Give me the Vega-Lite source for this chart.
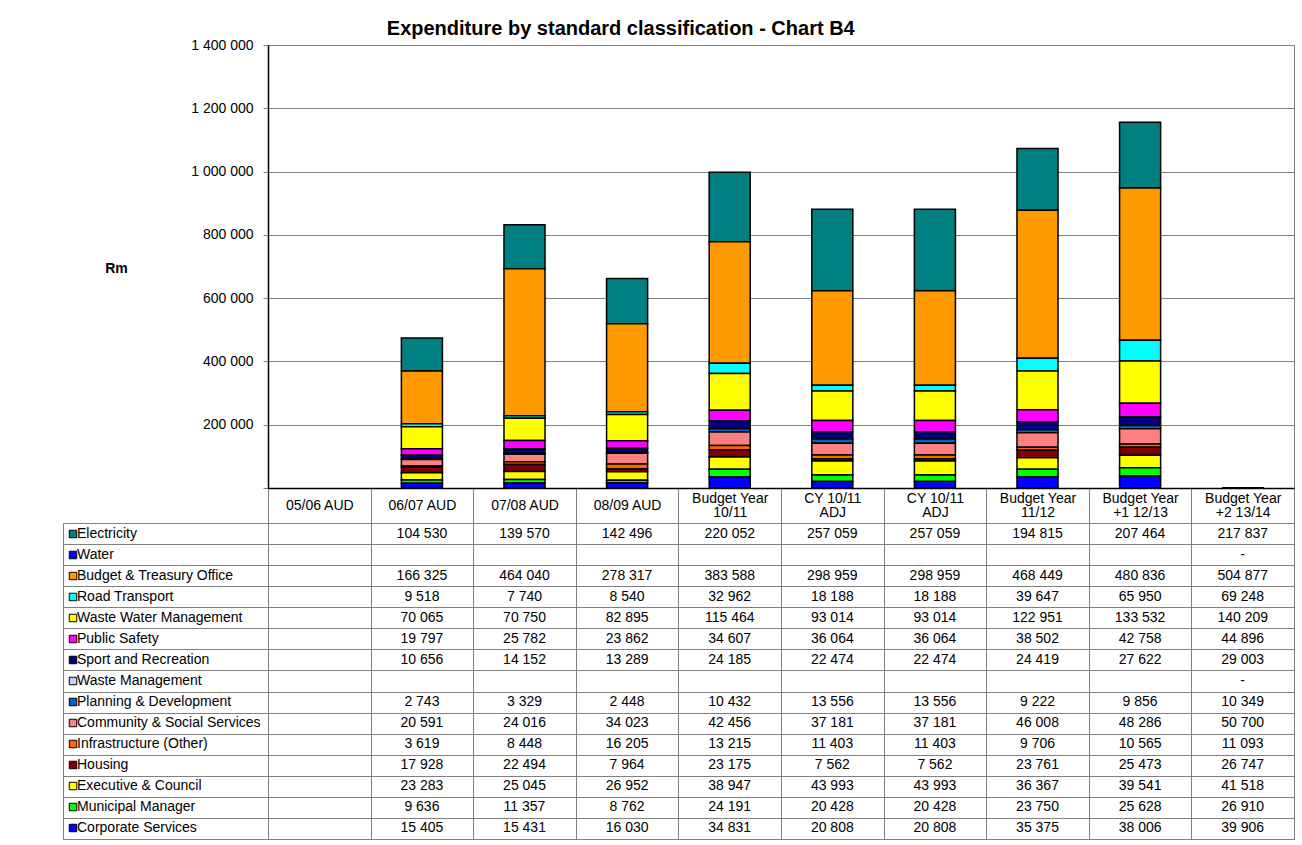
{
  "$schema": "https://vega.github.io/schema/vega-lite/v6.json",
  "padding": {"left": 62, "top": 18, "right": 6, "bottom": 4},
  "background": "white",
  "title": {"text": "Expenditure by standard classification - Chart B4", "font": "Liberation Sans", "fontSize": 20, "fontWeight": "bold", "color": "black", "anchor": "middle", "dx": -58, "offset": -1},
  "config": {
    "locale": {"number": {"decimal": ".", "thousands": " ", "grouping": [3], "currency": ["", ""]}},
    "font": "Liberation Sans",
    "view": {"stroke": "#808080"},
    "axis": {"labelFont": "Liberation Sans", "labelFontSize": 14, "labelColor": "black", "titleFont": "Liberation Sans"},
    "legend": {"labelFont": "Liberation Sans"}
  },
  "resolve": {"scale": {"color": "independent"}, "legend": {"color": "independent"}},
  "datasets": {
    "rank": [
      {"s": "Corporate Services", "r": 0},
      {"s": "Municipal Manager", "r": 1},
      {"s": "Executive & Council", "r": 2},
      {"s": "Housing", "r": 3},
      {"s": "Infrastructure (Other)", "r": 4},
      {"s": "Community & Social Services", "r": 5},
      {"s": "Planning & Development", "r": 6},
      {"s": "Waste Management", "r": 7},
      {"s": "Sport and Recreation", "r": 8},
      {"s": "Public Safety", "r": 9},
      {"s": "Waste Water Management", "r": 10},
      {"s": "Road Transport", "r": 11},
      {"s": "Budget & Treasury Office", "r": 12},
      {"s": "Water", "r": 13},
      {"s": "Electricity", "r": 14}
    ],
    "d": [
      {"s": "Electricity", "c": "06/07 AUD", "v": 104530, "h": 104530},
      {"s": "Electricity", "c": "07/08 AUD", "v": 139570, "h": 139570},
      {"s": "Electricity", "c": "08/09 AUD", "v": 142496, "h": 142496},
      {"s": "Electricity", "c": "Budget Year|10/11", "v": 220052, "h": 220052},
      {"s": "Electricity", "c": "CY  10/11|ADJ", "v": 257059, "h": 257059},
      {"s": "Electricity", "c": "CY  10/11|ADJ ", "v": 257059, "h": 257059},
      {"s": "Electricity", "c": "Budget Year|11/12", "v": 194815, "h": 194815},
      {"s": "Electricity", "c": "Budget Year|+1 12/13", "v": 207464, "h": 207464},
      {"s": "Electricity", "c": "Budget Year|+2 13/14", "v": 217837, "h": 0},
      {"s": "Water", "c": "Budget Year|+2 13/14", "v": 0, "h": 0},
      {"s": "Budget & Treasury Office", "c": "06/07 AUD", "v": 166325, "h": 166325},
      {"s": "Budget & Treasury Office", "c": "07/08 AUD", "v": 464040, "h": 464040},
      {"s": "Budget & Treasury Office", "c": "08/09 AUD", "v": 278317, "h": 278317},
      {"s": "Budget & Treasury Office", "c": "Budget Year|10/11", "v": 383588, "h": 383588},
      {"s": "Budget & Treasury Office", "c": "CY  10/11|ADJ", "v": 298959, "h": 298959},
      {"s": "Budget & Treasury Office", "c": "CY  10/11|ADJ ", "v": 298959, "h": 298959},
      {"s": "Budget & Treasury Office", "c": "Budget Year|11/12", "v": 468449, "h": 468449},
      {"s": "Budget & Treasury Office", "c": "Budget Year|+1 12/13", "v": 480836, "h": 480836},
      {"s": "Budget & Treasury Office", "c": "Budget Year|+2 13/14", "v": 504877, "h": 0},
      {"s": "Road Transport", "c": "06/07 AUD", "v": 9518, "h": 9518},
      {"s": "Road Transport", "c": "07/08 AUD", "v": 7740, "h": 7740},
      {"s": "Road Transport", "c": "08/09 AUD", "v": 8540, "h": 8540},
      {"s": "Road Transport", "c": "Budget Year|10/11", "v": 32962, "h": 32962},
      {"s": "Road Transport", "c": "CY  10/11|ADJ", "v": 18188, "h": 18188},
      {"s": "Road Transport", "c": "CY  10/11|ADJ ", "v": 18188, "h": 18188},
      {"s": "Road Transport", "c": "Budget Year|11/12", "v": 39647, "h": 39647},
      {"s": "Road Transport", "c": "Budget Year|+1 12/13", "v": 65950, "h": 65950},
      {"s": "Road Transport", "c": "Budget Year|+2 13/14", "v": 69248, "h": 0},
      {"s": "Waste Water Management", "c": "06/07 AUD", "v": 70065, "h": 70065},
      {"s": "Waste Water Management", "c": "07/08 AUD", "v": 70750, "h": 70750},
      {"s": "Waste Water Management", "c": "08/09 AUD", "v": 82895, "h": 82895},
      {"s": "Waste Water Management", "c": "Budget Year|10/11", "v": 115464, "h": 115464},
      {"s": "Waste Water Management", "c": "CY  10/11|ADJ", "v": 93014, "h": 93014},
      {"s": "Waste Water Management", "c": "CY  10/11|ADJ ", "v": 93014, "h": 93014},
      {"s": "Waste Water Management", "c": "Budget Year|11/12", "v": 122951, "h": 122951},
      {"s": "Waste Water Management", "c": "Budget Year|+1 12/13", "v": 133532, "h": 133532},
      {"s": "Waste Water Management", "c": "Budget Year|+2 13/14", "v": 140209, "h": 0},
      {"s": "Public Safety", "c": "06/07 AUD", "v": 19797, "h": 19797},
      {"s": "Public Safety", "c": "07/08 AUD", "v": 25782, "h": 25782},
      {"s": "Public Safety", "c": "08/09 AUD", "v": 23862, "h": 23862},
      {"s": "Public Safety", "c": "Budget Year|10/11", "v": 34607, "h": 34607},
      {"s": "Public Safety", "c": "CY  10/11|ADJ", "v": 36064, "h": 36064},
      {"s": "Public Safety", "c": "CY  10/11|ADJ ", "v": 36064, "h": 36064},
      {"s": "Public Safety", "c": "Budget Year|11/12", "v": 38502, "h": 38502},
      {"s": "Public Safety", "c": "Budget Year|+1 12/13", "v": 42758, "h": 42758},
      {"s": "Public Safety", "c": "Budget Year|+2 13/14", "v": 44896, "h": 0},
      {"s": "Sport and Recreation", "c": "06/07 AUD", "v": 10656, "h": 10656},
      {"s": "Sport and Recreation", "c": "07/08 AUD", "v": 14152, "h": 14152},
      {"s": "Sport and Recreation", "c": "08/09 AUD", "v": 13289, "h": 13289},
      {"s": "Sport and Recreation", "c": "Budget Year|10/11", "v": 24185, "h": 24185},
      {"s": "Sport and Recreation", "c": "CY  10/11|ADJ", "v": 22474, "h": 22474},
      {"s": "Sport and Recreation", "c": "CY  10/11|ADJ ", "v": 22474, "h": 22474},
      {"s": "Sport and Recreation", "c": "Budget Year|11/12", "v": 24419, "h": 24419},
      {"s": "Sport and Recreation", "c": "Budget Year|+1 12/13", "v": 27622, "h": 27622},
      {"s": "Sport and Recreation", "c": "Budget Year|+2 13/14", "v": 29003, "h": 0},
      {"s": "Waste Management", "c": "Budget Year|+2 13/14", "v": 0, "h": 0},
      {"s": "Planning & Development", "c": "06/07 AUD", "v": 2743, "h": 2743},
      {"s": "Planning & Development", "c": "07/08 AUD", "v": 3329, "h": 3329},
      {"s": "Planning & Development", "c": "08/09 AUD", "v": 2448, "h": 2448},
      {"s": "Planning & Development", "c": "Budget Year|10/11", "v": 10432, "h": 10432},
      {"s": "Planning & Development", "c": "CY  10/11|ADJ", "v": 13556, "h": 13556},
      {"s": "Planning & Development", "c": "CY  10/11|ADJ ", "v": 13556, "h": 13556},
      {"s": "Planning & Development", "c": "Budget Year|11/12", "v": 9222, "h": 9222},
      {"s": "Planning & Development", "c": "Budget Year|+1 12/13", "v": 9856, "h": 9856},
      {"s": "Planning & Development", "c": "Budget Year|+2 13/14", "v": 10349, "h": 0},
      {"s": "Community & Social Services", "c": "06/07 AUD", "v": 20591, "h": 20591},
      {"s": "Community & Social Services", "c": "07/08 AUD", "v": 24016, "h": 24016},
      {"s": "Community & Social Services", "c": "08/09 AUD", "v": 34023, "h": 34023},
      {"s": "Community & Social Services", "c": "Budget Year|10/11", "v": 42456, "h": 42456},
      {"s": "Community & Social Services", "c": "CY  10/11|ADJ", "v": 37181, "h": 37181},
      {"s": "Community & Social Services", "c": "CY  10/11|ADJ ", "v": 37181, "h": 37181},
      {"s": "Community & Social Services", "c": "Budget Year|11/12", "v": 46008, "h": 46008},
      {"s": "Community & Social Services", "c": "Budget Year|+1 12/13", "v": 48286, "h": 48286},
      {"s": "Community & Social Services", "c": "Budget Year|+2 13/14", "v": 50700, "h": 0},
      {"s": "Infrastructure (Other)", "c": "06/07 AUD", "v": 3619, "h": 3619},
      {"s": "Infrastructure (Other)", "c": "07/08 AUD", "v": 8448, "h": 8448},
      {"s": "Infrastructure (Other)", "c": "08/09 AUD", "v": 16205, "h": 16205},
      {"s": "Infrastructure (Other)", "c": "Budget Year|10/11", "v": 13215, "h": 13215},
      {"s": "Infrastructure (Other)", "c": "CY  10/11|ADJ", "v": 11403, "h": 11403},
      {"s": "Infrastructure (Other)", "c": "CY  10/11|ADJ ", "v": 11403, "h": 11403},
      {"s": "Infrastructure (Other)", "c": "Budget Year|11/12", "v": 9706, "h": 9706},
      {"s": "Infrastructure (Other)", "c": "Budget Year|+1 12/13", "v": 10565, "h": 10565},
      {"s": "Infrastructure (Other)", "c": "Budget Year|+2 13/14", "v": 11093, "h": 0},
      {"s": "Housing", "c": "06/07 AUD", "v": 17928, "h": 17928},
      {"s": "Housing", "c": "07/08 AUD", "v": 22494, "h": 22494},
      {"s": "Housing", "c": "08/09 AUD", "v": 7964, "h": 7964},
      {"s": "Housing", "c": "Budget Year|10/11", "v": 23175, "h": 23175},
      {"s": "Housing", "c": "CY  10/11|ADJ", "v": 7562, "h": 7562},
      {"s": "Housing", "c": "CY  10/11|ADJ ", "v": 7562, "h": 7562},
      {"s": "Housing", "c": "Budget Year|11/12", "v": 23761, "h": 23761},
      {"s": "Housing", "c": "Budget Year|+1 12/13", "v": 25473, "h": 25473},
      {"s": "Housing", "c": "Budget Year|+2 13/14", "v": 26747, "h": 0},
      {"s": "Executive & Council", "c": "06/07 AUD", "v": 23283, "h": 23283},
      {"s": "Executive & Council", "c": "07/08 AUD", "v": 25045, "h": 25045},
      {"s": "Executive & Council", "c": "08/09 AUD", "v": 26952, "h": 26952},
      {"s": "Executive & Council", "c": "Budget Year|10/11", "v": 38947, "h": 38947},
      {"s": "Executive & Council", "c": "CY  10/11|ADJ", "v": 43993, "h": 43993},
      {"s": "Executive & Council", "c": "CY  10/11|ADJ ", "v": 43993, "h": 43993},
      {"s": "Executive & Council", "c": "Budget Year|11/12", "v": 36367, "h": 36367},
      {"s": "Executive & Council", "c": "Budget Year|+1 12/13", "v": 39541, "h": 39541},
      {"s": "Executive & Council", "c": "Budget Year|+2 13/14", "v": 41518, "h": 0},
      {"s": "Municipal Manager", "c": "06/07 AUD", "v": 9636, "h": 9636},
      {"s": "Municipal Manager", "c": "07/08 AUD", "v": 11357, "h": 11357},
      {"s": "Municipal Manager", "c": "08/09 AUD", "v": 8762, "h": 8762},
      {"s": "Municipal Manager", "c": "Budget Year|10/11", "v": 24191, "h": 24191},
      {"s": "Municipal Manager", "c": "CY  10/11|ADJ", "v": 20428, "h": 20428},
      {"s": "Municipal Manager", "c": "CY  10/11|ADJ ", "v": 20428, "h": 20428},
      {"s": "Municipal Manager", "c": "Budget Year|11/12", "v": 23750, "h": 23750},
      {"s": "Municipal Manager", "c": "Budget Year|+1 12/13", "v": 25628, "h": 25628},
      {"s": "Municipal Manager", "c": "Budget Year|+2 13/14", "v": 26910, "h": 0},
      {"s": "Corporate Services", "c": "06/07 AUD", "v": 15405, "h": 15405},
      {"s": "Corporate Services", "c": "07/08 AUD", "v": 15431, "h": 15431},
      {"s": "Corporate Services", "c": "08/09 AUD", "v": 16030, "h": 16030},
      {"s": "Corporate Services", "c": "Budget Year|10/11", "v": 34831, "h": 34831},
      {"s": "Corporate Services", "c": "CY  10/11|ADJ", "v": 20808, "h": 20808},
      {"s": "Corporate Services", "c": "CY  10/11|ADJ ", "v": 20808, "h": 20808},
      {"s": "Corporate Services", "c": "Budget Year|11/12", "v": 35375, "h": 35375},
      {"s": "Corporate Services", "c": "Budget Year|+1 12/13", "v": 38006, "h": 38006},
      {"s": "Corporate Services", "c": "Budget Year|+2 13/14", "v": 39906, "h": 0}
    ]
  },
  "columns": 2,
  "spacing": {"row": 35, "column": 0},
  "bounds": "flush",
  "concat": [
    {
      "width": 205,
      "height": 443,
      "view": {"stroke": null},
      "data": {"values": [{"a": 1}]},
      "mark": {"type": "text"},
      "encoding": {"text": {"value": ""}}
    },
    {
      "width": 1026,
      "height": 443,
      "data": {"name": "d"},
      "transform": [{"lookup": "s", "from": {"data": {"name": "rank"}, "key": "s", "fields": ["r"]}}],
      "mark": {"type": "bar", "stroke": "black", "strokeWidth": 1.5, "width": {"band": 0.4}},
      "encoding": {
        "x": {
          "field": "c", "type": "nominal",
          "scale": {"type": "band", "domain": ["05/06 AUD", "06/07 AUD", "07/08 AUD", "08/09 AUD", "Budget Year|10/11", "CY  10/11|ADJ", "CY  10/11|ADJ ", "Budget Year|11/12", "Budget Year|+1 12/13", "Budget Year|+2 13/14"], "paddingInner": 0, "paddingOuter": 0},
          "axis": {"title": null, "domainColor": "black", "domainWidth": 1.5, "ticks": true, "tickBand": "extent", "tickSize": 35, "tickColor": "#808080", "tickWidth": 1, "labelAngle": 0, "labelExpr": "isValid(datum.value) ? split(trim(datum.value), '|') : ''", "labelPadding": {"condition": {"test": "isValid(datum.value) && indexof(datum.value, '|') >= 0", "value": -24.5}, "value": -17.5}, "labelBaseline": "middle", "labelLineHeight": 14, "labelLimit": 0, "labelOverlap": false}
        },
        "y": {
          "field": "h", "type": "quantitative", "stack": "zero",
          "scale": {"domain": [0, 1400000], "nice": false},
          "axis": {"title": "Rm", "titleAngle": 0, "titleX": -152, "titleY": 223, "titleAlign": "center", "titleBaseline": "middle", "titleFontSize": 14, "titleFontWeight": "bold", "titleColor": "black", "values": [0, 200000, 400000, 600000, 800000, 1000000, 1200000, 1400000], "labelExpr": "datum.value === 0 ? '' : format(datum.value, ',')", "grid": true, "gridColor": "#808080", "domainColor": "black", "domainWidth": 1.5, "tickColor": "#808080", "tickSize": 5, "labelPadding": 10}
        },
        "order": {"field": "r", "type": "quantitative", "sort": "ascending"},
        "color": {
          "field": "s", "type": "nominal",
          "scale": {
            "domain": ["Corporate Services", "Municipal Manager", "Executive & Council", "Housing", "Infrastructure (Other)", "Community & Social Services", "Planning & Development", "Waste Management", "Sport and Recreation", "Public Safety", "Waste Water Management", "Road Transport", "Budget & Treasury Office", "Water", "Electricity"],
            "range": ["#0000FF", "#00FF00", "#FFFF00", "#800000", "#FF6600", "#FF8080", "#0066CC", "#CCCCFF", "#000080", "#FF00FF", "#FFFF00", "#00FFFF", "#FF9900", "#0000FF", "#008080"]
          },
          "legend": null
        }
      }
    },
    {
      "width": 205,
      "height": 316,
      "data": {"name": "d"},
      "transform": [{"filter": "datum.c === 'Budget Year|+2 13/14'"}],
      "mark": {"type": "square", "size": 0},
      "encoding": {
        "y": {
          "field": "s", "type": "nominal",
          "scale": {"type": "band", "domain": ["Electricity", "Water", "Budget & Treasury Office", "Road Transport", "Waste Water Management", "Public Safety", "Sport and Recreation", "Waste Management", "Planning & Development", "Community & Social Services", "Infrastructure (Other)", "Housing", "Executive & Council", "Municipal Manager", "Corporate Services"], "paddingInner": 0, "paddingOuter": 0},
          "axis": {"title": null, "labels": false, "ticks": false, "domain": false, "grid": true, "tickBand": "extent", "gridColor": "#808080"}
        },
        "color": {
          "field": "s", "type": "nominal",
          "scale": {
            "domain": ["Electricity", "Water", "Budget & Treasury Office", "Road Transport", "Waste Water Management", "Public Safety", "Sport and Recreation", "Waste Management", "Planning & Development", "Community & Social Services", "Infrastructure (Other)", "Housing", "Executive & Council", "Municipal Manager", "Corporate Services"],
            "range": ["#008080", "#0000FF", "#FF9900", "#00FFFF", "#FFFF00", "#FF00FF", "#000080", "#CCCCFF", "#0066CC", "#FF8080", "#FF6600", "#800000", "#FFFF00", "#00FF00", "#0000FF"]
          },
          "legend": {"orient": "none", "legendX": 3, "legendY": 4, "title": null, "symbolType": "square", "symbolSize": 56, "symbolStrokeColor": "black", "symbolStrokeWidth": 1, "symbolOpacity": 1, "labelFontSize": 14, "labelColor": "black", "labelLimit": 300, "labelOffset": -3, "rowPadding": 7, "padding": 0}
        }
      }
    },
    {
      "width": 1026,
      "height": 316,
      "data": {"name": "d"},
      "mark": {"type": "text", "fontSize": 14, "font": "Liberation Sans", "color": "black", "baseline": "middle", "align": "center"},
      "encoding": {
        "x": {
          "field": "c", "type": "nominal",
          "scale": {"type": "band", "domain": ["05/06 AUD", "06/07 AUD", "07/08 AUD", "08/09 AUD", "Budget Year|10/11", "CY  10/11|ADJ", "CY  10/11|ADJ ", "Budget Year|11/12", "Budget Year|+1 12/13", "Budget Year|+2 13/14"], "paddingInner": 0, "paddingOuter": 0},
          "axis": {"title": null, "orient": "top", "labels": false, "ticks": false, "domain": false, "grid": true, "tickBand": "extent", "gridColor": "#808080"}
        },
        "y": {
          "field": "s", "type": "nominal",
          "scale": {"type": "band", "domain": ["Electricity", "Water", "Budget & Treasury Office", "Road Transport", "Waste Water Management", "Public Safety", "Sport and Recreation", "Waste Management", "Planning & Development", "Community & Social Services", "Infrastructure (Other)", "Housing", "Executive & Council", "Municipal Manager", "Corporate Services"], "paddingInner": 0, "paddingOuter": 0},
          "axis": {"title": null, "labels": false, "ticks": false, "domain": false, "grid": true, "tickBand": "extent", "gridColor": "#808080"}
        },
        "text": {"condition": {"test": "datum.v === 0", "value": "-"}, "field": "v", "type": "quantitative", "format": ","}
      }
    }
  ]
}
